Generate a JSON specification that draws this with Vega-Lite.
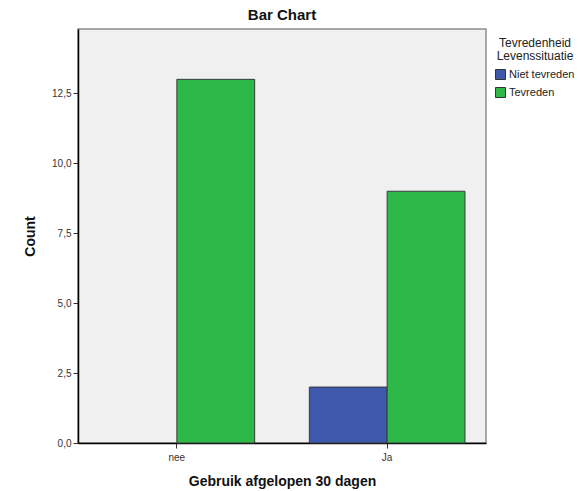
{
  "$schema": "https://vega.github.io/schema/vega-lite/v6.json",
  "autosize": "none",
  "padding": {"left": 78, "top": 29, "right": 98, "bottom": 48},
  "width": 408,
  "height": 414,
  "background": "white",
  "config": {
    "font": "Liberation Sans",
    "view": {"fill": "#F0F0F0", "stroke": "#8c8c8c", "strokeWidth": 1.5}
  },
  "title": {
    "text": "Bar Chart",
    "fontSize": 15,
    "fontWeight": "bold",
    "color": "#111",
    "anchor": "middle",
    "offset": 6
  },
  "data": {
    "values": [
      {"gebruik": "nee", "tevredenheid": "Tevreden", "count": 13},
      {"gebruik": "Ja", "tevredenheid": "Niet tevreden", "count": 2},
      {"gebruik": "Ja", "tevredenheid": "Tevreden", "count": 9}
    ]
  },
  "mark": {"type": "bar", "stroke": "#3a3a3a", "strokeWidth": 1},
  "encoding": {
    "x": {
      "field": "gebruik",
      "type": "nominal",
      "sort": ["nee", "Ja"],
      "scale": {"paddingInner": 0.26, "paddingOuter": 0.1},
      "axis": {
        "title": "Gebruik afgelopen 30 dagen",
        "titleFontSize": 14,
        "titleFontWeight": "bold",
        "titleColor": "#111",
        "titlePadding": 12,
        "labelAngle": 0,
        "labelFontSize": 10,
        "labelColor": "#333",
        "labelPadding": 4,
        "domainColor": "#000",
        "domainWidth": 1.5,
        "tickColor": "#333",
        "tickSize": 5,
        "grid": false
      }
    },
    "xOffset": {
      "field": "tevredenheid",
      "type": "nominal",
      "scale": {"domain": ["Niet tevreden", "Tevreden"], "paddingInner": 0, "paddingOuter": 0}
    },
    "y": {
      "field": "count",
      "type": "quantitative",
      "scale": {"domain": [0, 14.8], "nice": false, "zero": true},
      "axis": {
        "title": "Count",
        "titleFontSize": 14,
        "titleFontWeight": "bold",
        "titleColor": "#111",
        "titlePadding": 14,
        "values": [0, 2.5, 5, 7.5, 10, 12.5],
        "labelExpr": "replace(format(datum.value, '.1f'), '.', ',')",
        "labelFontSize": 10,
        "labelColor": "#333",
        "labelPadding": 2,
        "domainColor": "#000",
        "domainWidth": 1.5,
        "tickColor": "#333",
        "tickSize": 5,
        "grid": false
      }
    },
    "color": {
      "field": "tevredenheid",
      "type": "nominal",
      "scale": {"domain": ["Niet tevreden", "Tevreden"], "range": ["#3E58AC", "#2EB848"]},
      "legend": {
        "title": ["Tevredenheid", "Levenssituatie"],
        "orient": "none",
        "legendX": 417,
        "legendY": 9,
        "titleFontSize": 12,
        "titleFontWeight": "normal",
        "titleColor": "#222",
        "titleAlign": "center",
        "titleAnchor": "middle",
        "titleLineHeight": 13,
        "titlePadding": 6,
        "labelFontSize": 11,
        "labelColor": "#222",
        "labelOffset": 3,
        "symbolType": "square",
        "symbolSize": 100,
        "symbolStrokeColor": "#333",
        "symbolStrokeWidth": 1,
        "symbolOpacity": 1,
        "rowPadding": 3
      }
    }
  }
}
